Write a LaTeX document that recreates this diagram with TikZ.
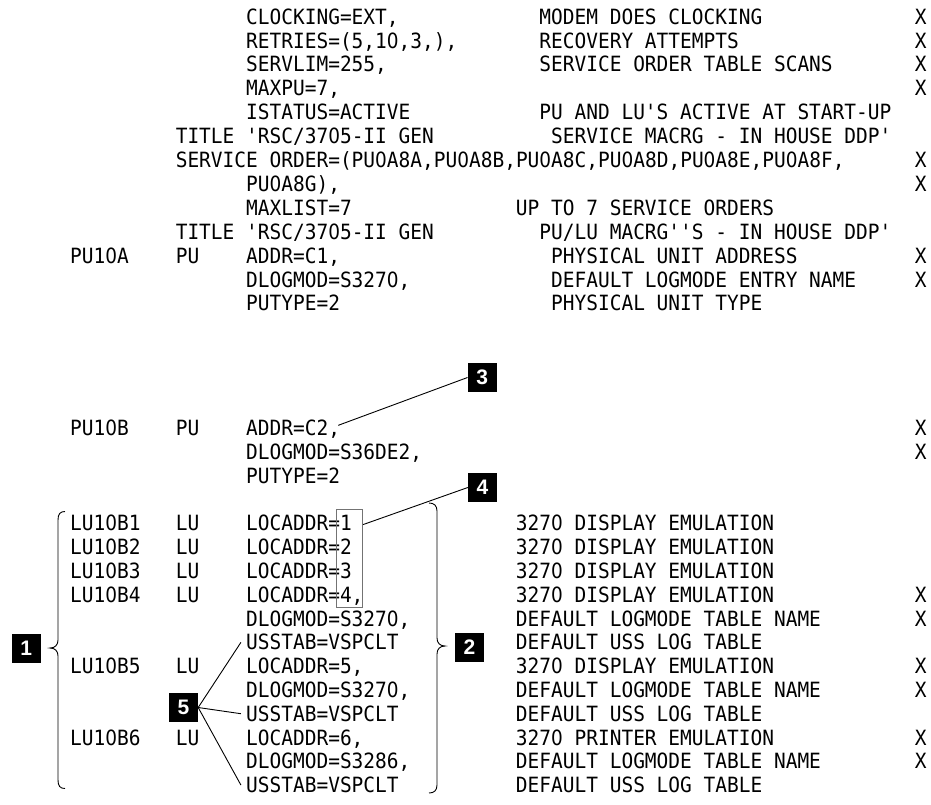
\documentclass[tikz,border=0pt]{standalone}
\usepackage{fontspec}
\usetikzlibrary{calc}
\newfontfamily\lstfont[FakeStretch=0.928,Ligatures=TeXOff]{DejaVu Sans Mono}
\newfontfamily\zerofont[FakeStretch=0.878,Ligatures=TeXOff]{DejaVu Sans}
\newfontfamily\tagfont{Liberation Sans}
% listing zeros are set as plain (undotted) zeros
\XeTeXinterchartokenstate=1
\newXeTeXintercharclass\zerocls
\XeTeXcharclass`\0=\zerocls
\XeTeXinterchartoks 0 \zerocls={\begingroup\zerofont}
\XeTeXinterchartoks 1 \zerocls={\begingroup\zerofont}
\XeTeXinterchartoks 2 \zerocls={\begingroup\zerofont}
\XeTeXinterchartoks 3 \zerocls={\begingroup\zerofont}
\XeTeXinterchartoks 4095 \zerocls={\begingroup\zerofont}
\XeTeXinterchartoks \zerocls 0={\endgroup}
\XeTeXinterchartoks \zerocls 1={\endgroup}
\XeTeXinterchartoks \zerocls 2={\endgroup}
\XeTeXinterchartoks \zerocls 3={\endgroup}
\XeTeXinterchartoks \zerocls 4095={\endgroup}
% listing grid: left margin and character pitch
\newcommand\lstx{70}
\newcommand\lstw{11.73}
\newcommand\tb[1]{24.15+23.9*#1}
\newcommand\lb[1]{530.95+23.8*#1}
\newcommand\cell[4]{\node[lst] (#1) at ({\lstx+#2*\lstw},{#3}) {#4};}
\begin{document}
\begin{tikzpicture}[x=1pt,y=-1pt,
  lst/.style={anchor=base west,inner sep=0pt,font=\lstfont\fontsize{21}{21}\selectfont},
  tag/.style={fill=black,text=white,inner sep=0pt,minimum size=29pt,
    font=\tagfont\bfseries\fontsize{21}{21}\selectfont},
  lead/.style={line width=0.9pt},
  curl/.style={line width=0.9pt},
  digitframe/.style={draw=black!55,line width=0.9pt,inner sep=0pt}]
\fill[white] (0,0) rectangle (931,804);
\useasboundingbox (0,0) rectangle (931,804);

% ---- line-group statement operands
\cell{clk}{15}{\tb{0}}{CLOCKING=EXT,}
\cell{clkc}{40}{\tb{0}}{MODEM DOES CLOCKING}
\cell{clkx}{72}{\tb{0}}{X}
\cell{ret}{15}{\tb{1}}{RETRIES=(5,10,3,),}
\cell{retc}{40}{\tb{1}}{RECOVERY ATTEMPTS}
\cell{retx}{72}{\tb{1}}{X}
\cell{svl}{15}{\tb{2}}{SERVLIM=255,}
\cell{svlc}{40}{\tb{2}}{SERVICE ORDER TABLE SCANS}
\cell{svlx}{72}{\tb{2}}{X}
\cell{mxp}{15}{\tb{3}}{MAXPU=7,}
\cell{mxpx}{72}{\tb{3}}{X}
\cell{ist}{15}{\tb{4}}{ISTATUS=ACTIVE}
\cell{istc}{40}{\tb{4}}{PU AND LU'S ACTIVE AT START-UP}
\cell{ttl}{9}{\tb{5}}{TITLE 'RSC/3705-II GEN}
\cell{ttlc}{41}{\tb{5}}{SERVICE MACRG - IN HOUSE DDP'}
\cell{sor}{9}{\tb{6}}{SERVICE ORDER=(PU0A8A,PU0A8B,PU0A8C,PU0A8D,PU0A8E,PU0A8F,}
\cell{sorx}{72}{\tb{6}}{X}
\cell{sog}{15}{\tb{7}}{PU0A8G),}
\cell{sogx}{72}{\tb{7}}{X}
\cell{mxl}{15}{\tb{8}}{MAXLIST=7}
\cell{mxlc}{38}{\tb{8}}{UP TO 7 SERVICE ORDERS}
\cell{ttm}{9}{\tb{9}}{TITLE 'RSC/3705-II GEN}
\cell{ttmc}{40}{\tb{9}}{PU/LU MACRG''S - IN HOUSE DDP'}

% ---- PU10A
\cell{paname}{0}{\tb{10}}{PU10A}
\cell{paop}{9}{\tb{10}}{PU}
\cell{paaddr}{15}{\tb{10}}{ADDR=C1,}
\cell{paaddrc}{41}{\tb{10}}{PHYSICAL UNIT ADDRESS}
\cell{paaddrx}{72}{\tb{10}}{X}
\cell{padlog}{15}{\tb{11}}{DLOGMOD=S3270,}
\cell{padlogc}{41}{\tb{11}}{DEFAULT LOGMODE ENTRY NAME}
\cell{padlogx}{72}{\tb{11}}{X}
\cell{paput}{15}{\tb{12}}{PUTYPE=2}
\cell{paputc}{41}{\tb{12}}{PHYSICAL UNIT TYPE}

% ---- PU10B
\cell{pbname}{0}{435.65}{PU10B}
\cell{pbop}{9}{435.65}{PU}
\cell{pbaddr}{15}{435.65}{ADDR=C2,}
\cell{pbaddrx}{72}{435.65}{X}
\cell{pbdlog}{15}{459.55}{DLOGMOD=S36DE2,}
\cell{pbdlogx}{72}{459.55}{X}
\cell{pbput}{15}{483.45}{PUTYPE=2}

% ---- logical units
\cell{l1name}{0}{\lb{0}}{LU10B1}
\cell{l1op}{9}{\lb{0}}{LU}
\cell{l1loc}{15}{\lb{0}}{LOCADDR=1}
\cell{l1c}{38}{\lb{0}}{3270 DISPLAY EMULATION}
\cell{l2name}{0}{\lb{1}}{LU10B2}
\cell{l2op}{9}{\lb{1}}{LU}
\cell{l2loc}{15}{\lb{1}}{LOCADDR=2}
\cell{l2c}{38}{\lb{1}}{3270 DISPLAY EMULATION}
\cell{l3name}{0}{\lb{2}}{LU10B3}
\cell{l3op}{9}{\lb{2}}{LU}
\cell{l3loc}{15}{\lb{2}}{LOCADDR=3}
\cell{l3c}{38}{\lb{2}}{3270 DISPLAY EMULATION}
\cell{l4name}{0}{\lb{3}}{LU10B4}
\cell{l4op}{9}{\lb{3}}{LU}
\cell{l4loc}{15}{\lb{3}}{LOCADDR=4,}
\cell{l4c}{38}{\lb{3}}{3270 DISPLAY EMULATION}
\cell{l4x}{72}{\lb{3}}{X}
\cell{l4dlog}{15}{\lb{4}}{DLOGMOD=S3270,}
\cell{l4dlogc}{38}{\lb{4}}{DEFAULT LOGMODE TABLE NAME}
\cell{l4dlogx}{72}{\lb{4}}{X}
\cell{us1}{15}{\lb{5}}{USSTAB=VSPCLT}
\cell{us1c}{38}{\lb{5}}{DEFAULT USS LOG TABLE}
\cell{l5name}{0}{\lb{6}}{LU10B5}
\cell{l5op}{9}{\lb{6}}{LU}
\cell{l5loc}{15}{\lb{6}}{LOCADDR=5,}
\cell{l5c}{38}{\lb{6}}{3270 DISPLAY EMULATION}
\cell{l5x}{72}{\lb{6}}{X}
\cell{l5dlog}{15}{\lb{7}}{DLOGMOD=S3270,}
\cell{l5dlogc}{38}{\lb{7}}{DEFAULT LOGMODE TABLE NAME}
\cell{l5dlogx}{72}{\lb{7}}{X}
\cell{us2}{15}{\lb{8}}{USSTAB=VSPCLT}
\cell{us2c}{38}{\lb{8}}{DEFAULT USS LOG TABLE}
\cell{l6name}{0}{\lb{9}}{LU10B6}
\cell{l6op}{9}{\lb{9}}{LU}
\cell{l6loc}{15}{\lb{9}}{LOCADDR=6,}
\cell{l6c}{38}{\lb{9}}{3270 PRINTER EMULATION}
\cell{l6x}{72}{\lb{9}}{X}
\cell{l6dlog}{15}{\lb{10}}{DLOGMOD=S3286,}
\cell{l6dlogc}{38}{\lb{10}}{DEFAULT LOGMODE TABLE NAME}
\cell{l6dlogx}{72}{\lb{10}}{X}
\cell{us3}{15}{\lb{11}}{USSTAB=VSPCLT}
\cell{us3c}{38}{\lb{11}}{DEFAULT USS LOG TABLE}

% ---- frame round the local addresses
\node[digitframe,minimum width=26pt,minimum height=98.7pt] (frame) at (349.7,558.35) {};

% ---- callout tags
\node[tag] (t1) at (26.2,648.5) {1};
\node[tag] (t2) at (469.5,647) {2};
\node[tag] (t3) at (482.2,377.5) {3};
\node[tag] (t4) at (482.5,487.5) {4};
\node[tag] (t5) at (183.5,707.5) {5};

% ---- leader lines
\coordinate (a3) at ([xshift=-2pt,yshift=4pt]pbaddr.east);
\coordinate (a4) at ([yshift=-16pt]frame.north east);
\coordinate (a5a) at ([xshift=-5pt]us1.west);
\coordinate (a5b) at ([xshift=-5pt]us2.west);
\coordinate (a5c) at ([xshift=-5pt]us3.west);
\draw[lead] (t3.west) -- (a3);
\draw[lead] (t4.west) -- (a4);
\draw[lead] (t5.east) -- (a5a);
\draw[lead] (t5.east) -- (a5b);
\draw[lead] (t5.east) -- (a5c);

% ---- braces
\draw[curl] (65,511.5) .. controls (60,511.5) and (58,514) .. (58,520) -- (58,640)
  .. controls (58,645) and (55,648) .. (50,648)
  .. controls (55,648) and (58,651) .. (58,656) -- (58,780)
  .. controls (58,786) and (60,788.5) .. (65,788.5);
\draw[curl] (429,503) .. controls (434,503) and (437,505.5) .. (437,511) -- (437,638)
  .. controls (437,643) and (440,646) .. (445,646)
  .. controls (440,646) and (437,649) .. (437,654) -- (437,785)
  .. controls (437,790.5) and (434,793) .. (429,793);
\end{tikzpicture}
\end{document}
